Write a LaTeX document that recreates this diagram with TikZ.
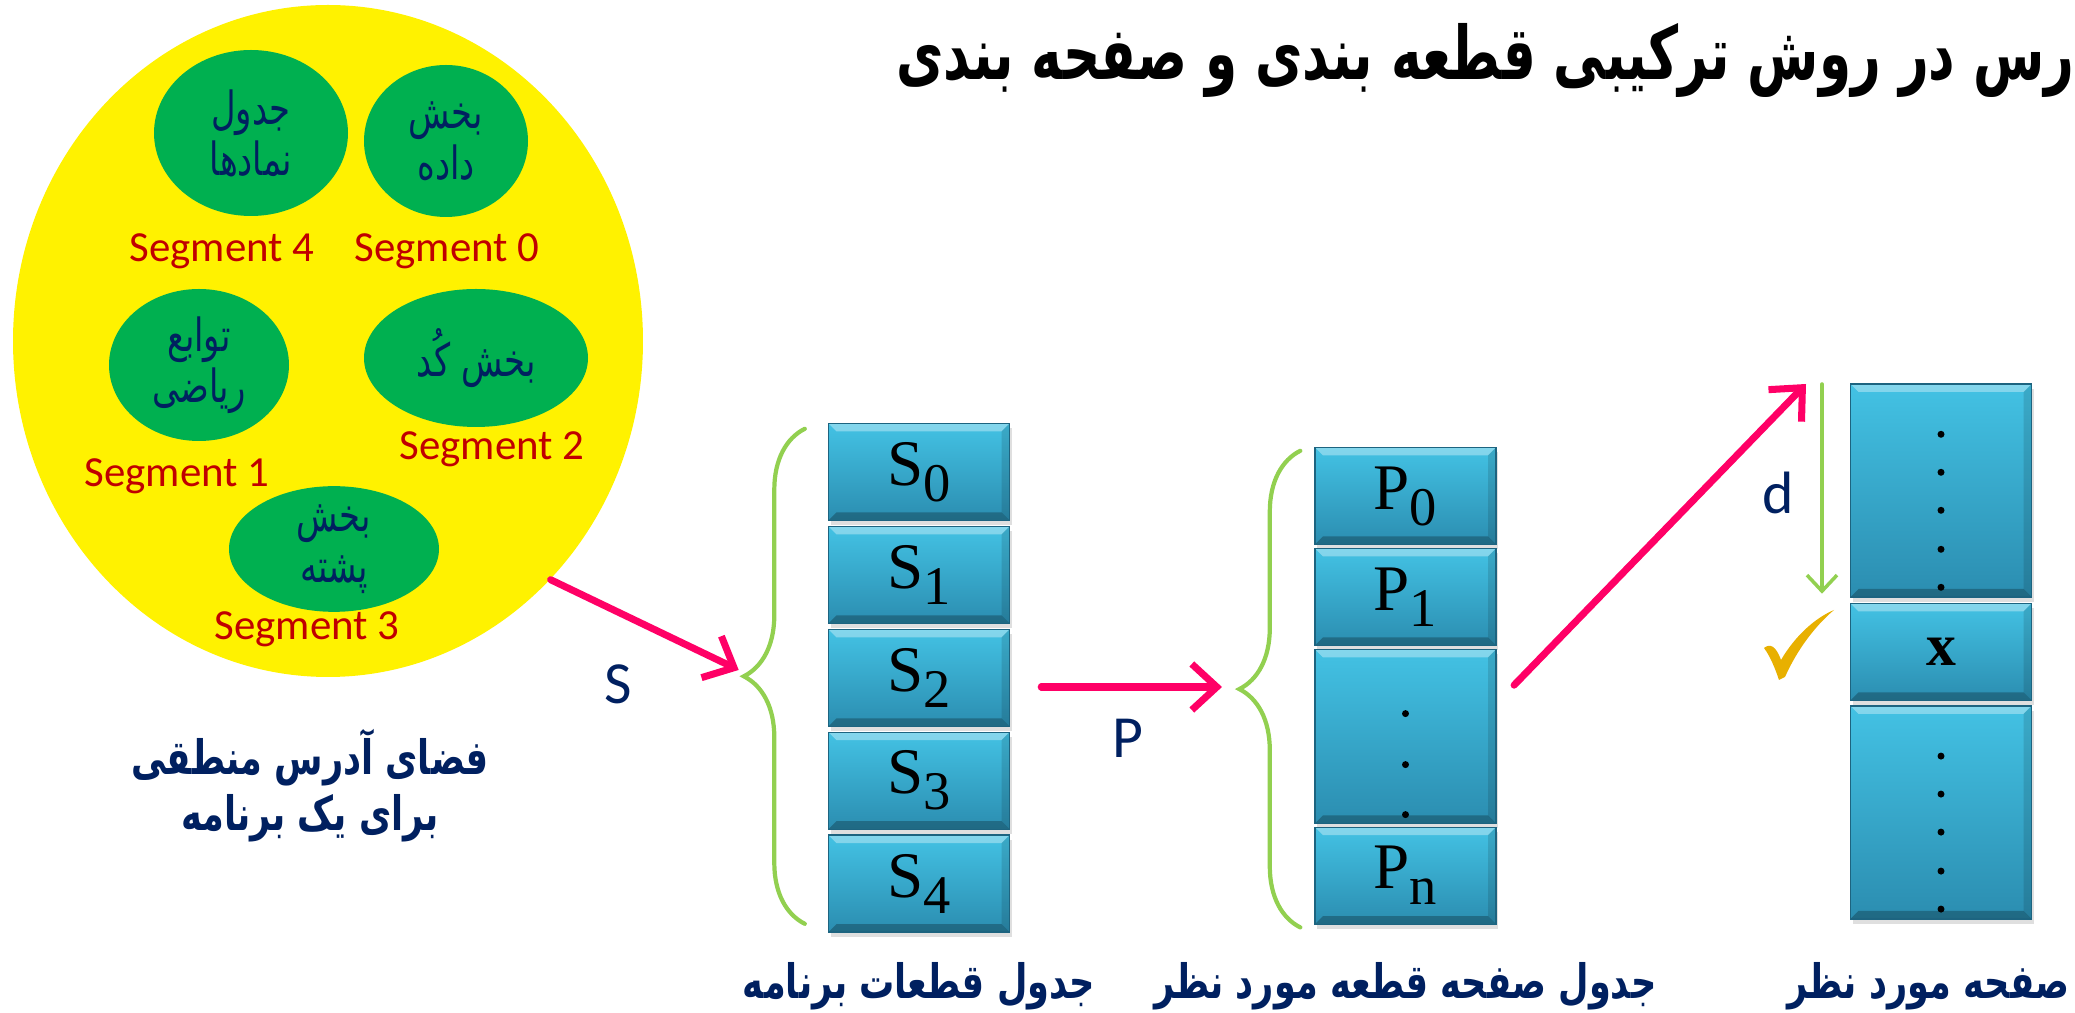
\documentclass[tikz,border=0pt]{standalone}
\usepackage{fontspec}
\usetikzlibrary{positioning,shapes.geometric,arrows.meta,decorations.pathreplacing,shadows}
\TeXXeTstate=1
\newfontfamily\fa[Script=Arabic,FakeStretch=0.74]{DejaVu Sans}
\newfontfamily\fatitle[Script=Arabic,FakeStretch=0.7]{DejaVu Sans}
\newfontfamily\lat{Carlito}
\newfontfamily\tms{Liberation Serif}
\definecolor{segred}{HTML}{C00000}
\definecolor{navy}{HTML}{002060}
\definecolor{leafgreen}{HTML}{00B050}
\definecolor{hotpink}{HTML}{FF0066}
\definecolor{limegreen}{HTML}{92D050}
\definecolor{boxtop}{HTML}{43C2E4}
\definecolor{boxbot}{HTML}{2B8DB0}
\definecolor{boxedge}{HTML}{1D6480}
\definecolor{tickgold}{HTML}{E8B000}
\newcommand{\boxidx}[1]{\raisebox{-1.6mm}{\fontsize{15.5}{16}\selectfont #1}}

\begin{document}
\begin{tikzpicture}[x=0.1mm,y=-0.1mm,line cap=round]
\tikzstyle{segment}=[ellipse,fill=leafgreen,text=navy,inner sep=0pt,align=center,font=\fa\fontsize{13}{14.5}\selectfont]
\tikzstyle{seglabel}=[text=segred,inner sep=0pt,font=\lat\fontsize{12.2}{14}\selectfont]
\tikzstyle{letter}=[text=navy,inner sep=0pt,font=\lat\fontsize{17}{19}\selectfont]
\tikzstyle{caption}=[text=navy,inner sep=0pt,align=center,font=\fa\bfseries\fontsize{13.5}{16}\selectfont]
\tikzstyle{tablebox}=[rectangle,minimum width=18.1mm,minimum height=9.7mm,inner sep=0pt,
  top color=boxtop,bottom color=boxbot,draw=boxedge,line width=0.4pt,
  drop shadow={shadow xshift=0.2mm,shadow yshift=-0.5mm,opacity=0.25},
  font=\tms\fontsize{18.5}{20}\selectfont,
  path picture={
    \fill[white,opacity=0.35] (path picture bounding box.north west) -- (path picture bounding box.north east)
      -- ([shift={(-0.8mm,-0.8mm)}]path picture bounding box.north east) -- ([shift={(0.8mm,-0.8mm)}]path picture bounding box.north west) -- cycle;
    \fill[black,opacity=0.25] (path picture bounding box.south west) -- (path picture bounding box.south east)
      -- ([shift={(-0.8mm,0.8mm)}]path picture bounding box.south east) -- ([shift={(0.8mm,0.8mm)}]path picture bounding box.south west) -- cycle;
    \fill[black,opacity=0.12] (path picture bounding box.north east) -- (path picture bounding box.south east)
      -- ([shift={(-0.8mm,0.8mm)}]path picture bounding box.south east) -- ([shift={(-0.8mm,-0.8mm)}]path picture bounding box.north east) -- cycle;
  }]
\tikzstyle{pinkarrow}=[hotpink,line width=2pt,-{Straight Barb[length=2.5mm,width=4.6mm]}]
\tikzstyle{greenarrow}=[limegreen,line width=1pt,-{Straight Barb[length=1.6mm,width=3mm]}]
\tikzstyle{bracket}=[limegreen,line width=1.2pt,decorate,decoration={brace,amplitude=6.1mm}]

\useasboundingbox (0,0) rectangle (2075,1013);

\node[anchor=east,inner sep=0pt,font=\fatitle\bfseries\fontsize{21}{24}\selectfont] (title) at (2075,60)
  {\beginR رس در روش ترکیبی قطعه بندی و صفحه بندی\endR};

% logical address space
\node[ellipse,fill=yellow,minimum width=63mm,minimum height=67.2mm,inner sep=0pt] (space) at (328,341) {};
\node[segment,minimum width=19.4mm,minimum height=16.6mm] (seg4) at (251,133) {\beginR جدول\endR\\\beginR نمادها\endR};
\node[segment,minimum width=16.4mm,minimum height=15.2mm] (seg0) at (446,141) {\beginR بخش\endR\\\beginR داده\endR};
\node[segment,minimum width=18mm,minimum height=15.2mm] (seg1) at (199,365) {\beginR توابع\endR\\\beginR ریاضی\endR};
\node[segment,minimum width=22.4mm,minimum height=13.8mm] (seg2) at (476,358) {\beginR بخش کُد\endR};
\node[segment,minimum width=21mm,minimum height=10.4mm] (seg3) at (334,549) {\beginR بخش\endR\\\beginR پشته\endR};
\node[seglabel] (lab4) at (222,251) {Segment 4};
\node[seglabel] (lab0) at (447,251) {Segment 0};
\node[seglabel] (lab2) at (492,449) {Segment 2};
\node[seglabel] (lab1) at (177,476) {Segment 1};
\node[seglabel] (lab3) at (307,629) {Segment 3};
\node[caption] (spacecap) at (310,786) {\beginR فضای آدرس منطقی\endR\\\beginR برای یک برنامه\endR};

% segment table
\node[tablebox] (s0) at (919,472) {S\boxidx{0}};
\node[tablebox,below=0.45mm of s0] (s1) {S\boxidx{1}};
\node[tablebox,below=0.45mm of s1] (s2) {S\boxidx{2}};
\node[tablebox,below=0.45mm of s2] (s3) {S\boxidx{3}};
\node[tablebox,below=0.45mm of s3] (s4) {S\boxidx{4}};
\node[caption] (scap) at (s4.south |- 0,986) {\beginR جدول قطعات برنامه\endR};
\draw[bracket] ([xshift=-2.3mm,yshift=0.9mm]s4.south west) -- ([xshift=-2.3mm,yshift=-0.6mm]s0.north west);
\coordinate (stip) at (745,673);

% page table of the segment
\node[tablebox] (p0) at (1405.5,496) {P\boxidx{0}};
\node[tablebox,below=0.25mm of p0] (p1) {P\boxidx{1}};
\node[tablebox,below=0.25mm of p1,minimum height=17.4mm] (pdots) {};
\node[tablebox,below=0.25mm of pdots] (pn) {P\boxidx{n}};
\foreach \k in {65,116,166} \fill (pdots.north) ++(0,\k) circle (0.35mm);
\node[caption] (pcap) at (pn.south |- 0,986) {\beginR جدول صفحه قطعه مورد نظر\endR};
\draw[bracket] ([xshift=-1.4mm,yshift=-0.25mm]pn.south west) -- ([xshift=-1.4mm,yshift=-0.4mm]p0.north west);
\coordinate (ptip) at (1239,687);

% wanted page
\node[tablebox,minimum height=21.3mm] (pgtop) at (1941,490.5) {};
\node[tablebox,below=0.5mm of pgtop,font=\tms\bfseries\fontsize{17}{19}\selectfont] (xbox) {x};
\node[tablebox,below=0.4mm of xbox,minimum height=21.3mm] (pgbot) {};
\foreach \k in {51,89,127,166,204} {
  \fill (pgtop.north) ++(0,\k) circle (0.35mm);
  \fill (pgbot.north) ++(0,\k) circle (0.35mm);
}
\node[caption,anchor=east] (pgcap) at (2070,986) {\beginR صفحه مورد نظر\endR};
\coordinate (seek) at (1806,384);
\coordinate (dtop) at (1822,384);

\draw[pinkarrow,shorten >=0.7mm] (space.-47) -- (stip);
\node[letter] (slab) at (618,684) {S};
\draw[pinkarrow,shorten <=3.1mm,shorten >=1.7mm] (s2.east |- ptip) -- (ptip);
\node[letter] (plab) at (1128,738) {P};
\draw[pinkarrow,shorten <=2.5mm] (pdots.20) -- (seek);
\draw[greenarrow,shorten >=0.9mm] (dtop) -- (dtop |- xbox.north) node[midway,left=2.6mm,letter] (dlab) {d};
\fill[tickgold] (1764,648) .. controls (1770,643) and (1776,646) .. (1781,660)
  .. controls (1795,636) and (1815,618) .. (1834,610)
  .. controls (1815,626) and (1797,650) .. (1785,677)
  -- (1779,680) .. controls (1775,668) and (1770,656) .. (1764,648) -- cycle;
\end{tikzpicture}
\end{document}
